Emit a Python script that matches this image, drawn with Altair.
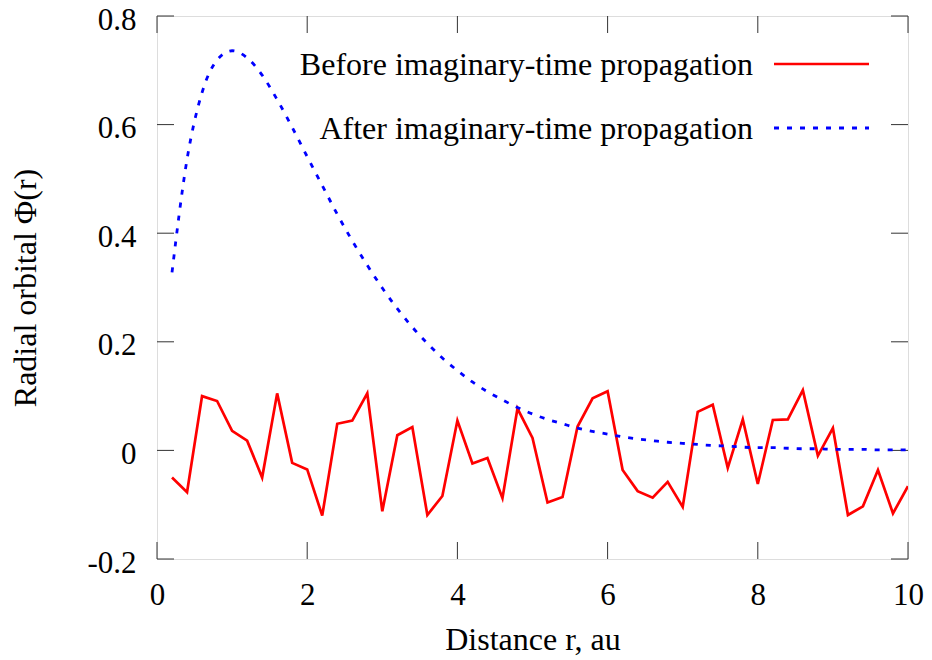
import altair as alt
import pandas as pd

# Radial grid (au)
r = [round(0.2 * i, 1) for i in range(1, 51)]

# Before imaginary-time propagation
before = [-0.050, -0.077, 0.100, 0.091, 0.036, 0.018, -0.050, 0.105, -0.023, -0.035,
          -0.120, 0.049, 0.055, 0.105, -0.112, 0.028, 0.043, -0.119, -0.084, 0.055,
          -0.024, -0.014, -0.088, 0.077, 0.023, -0.096, -0.086, 0.044, 0.096, 0.109,
          -0.036, -0.075, -0.087, -0.058, -0.104, 0.071, 0.084, -0.032, 0.057, -0.062,
          0.056, 0.057, 0.111, -0.010, 0.041, -0.119, -0.103, -0.036, -0.116, -0.066]

# After imaginary-time propagation
after = [0.328, 0.536, 0.659, 0.719, 0.736, 0.723, 0.691, 0.646, 0.595, 0.541,
         0.488, 0.435, 0.386, 0.341, 0.299, 0.261, 0.227, 0.197, 0.170, 0.147,
         0.126, 0.108, 0.093, 0.079, 0.067, 0.057, 0.049, 0.041, 0.035, 0.030,
         0.025, 0.021, 0.018, 0.015, 0.013, 0.011, 0.009, 0.008, 0.006, 0.005,
         0.005, 0.004, 0.003, 0.003, 0.002, 0.002, 0.002, 0.001, 0.001, 0.001]

x_ticks = [0, 2, 4, 6, 8, 10]
y_ticks = [-0.2, 0, 0.2, 0.4, 0.6, 0.8]

legend_labels = ["Before imaginary-time propagation", "After imaginary-time propagation"]

FONT = "Liberation Serif"
W, H = 751, 543
TICK = 17

df = pd.DataFrame({"r": r, "before": before, "after": after})

xs = alt.Scale(domain=[0, 10], nice=False, zero=False)
ys = alt.Scale(domain=[-0.2, 0.8], nice=False, zero=False)

x_axis = alt.Axis(values=x_ticks, format="d", grid=False, domain=False, ticks=False,
                  tickSize=0, labelFont=FONT, labelFontSize=31, labelColor="black",
                  labelBaseline="alphabetic", labelPadding=45, labelFlush=False,
                  title="Distance  r, au", titleFont=FONT, titleFontSize=32,
                  titleFontWeight="normal", titleColor="black",
                  titleBaseline="alphabetic", titleY=90, titleX=W / 2)
y_axis = alt.Axis(values=y_ticks, grid=False, domain=False, ticks=False, tickSize=0,
                  labelFont=FONT, labelFontSize=31, labelColor="black",
                  labelPadding=21, labelFlush=False, labelBaseline="alphabetic",
                  labelOffset=13,
                  labelExpr="datum.value == 0 ? '0' : (datum.value < 0 ? '-' + format(-datum.value, '.1f') : format(datum.value, '.1f'))",
                  title="Radial orbital \u03a6(r)", titleFont=FONT, titleFontSize=32,
                  titleFontWeight="normal", titleColor="black",
                  titleBaseline="alphabetic", titleAngle=270, titleX=-122, titleY=H / 2,
                  titleAlign="center")

base = alt.Chart(df)

red = base.mark_line(color="#ff0000", strokeWidth=2.7, clip=True).encode(
    x=alt.X("r:Q", scale=xs, axis=x_axis),
    y=alt.Y("before:Q", scale=ys, axis=y_axis),
)
blue = base.mark_line(color="#0000ff", strokeWidth=2.8, strokeDash=[5, 8],
                      interpolate="monotone", clip=True).encode(
    x=alt.X("r:Q", scale=xs),
    y=alt.Y("after:Q", scale=ys),
)

xt = pd.DataFrame({"v": x_ticks})
yt = pd.DataFrame({"v": y_ticks})
tick_style = dict(color="#333333", strokeWidth=1)
xt_bottom = alt.Chart(xt).mark_rule(**tick_style).encode(
    x=alt.X("v:Q", scale=xs), y=alt.value(H - TICK), y2=alt.value(H))
xt_top = alt.Chart(xt).mark_rule(**tick_style).encode(
    x=alt.X("v:Q", scale=xs), y=alt.value(0), y2=alt.value(TICK))
yt_left = alt.Chart(yt).mark_rule(**tick_style).encode(
    y=alt.Y("v:Q", scale=ys), x=alt.value(0), x2=alt.value(TICK))
yt_right = alt.Chart(yt).mark_rule(**tick_style).encode(
    y=alt.Y("v:Q", scale=ys), x=alt.value(W - TICK), x2=alt.value(W))

one = pd.DataFrame({"label": [legend_labels[0]]})
two = pd.DataFrame({"label": [legend_labels[1]]})
leg_t1 = alt.Chart(one).mark_text(align="right", baseline="middle", font=FONT,
                                  fontSize=32, color="black").encode(
    text="label:N", x=alt.value(596), y=alt.value(49))
leg_t2 = alt.Chart(two).mark_text(align="right", baseline="middle", font=FONT,
                                  fontSize=32, color="black").encode(
    text="label:N", x=alt.value(596), y=alt.value(113))
leg_l1 = alt.Chart(one).mark_rule(color="#ff0000", strokeWidth=2.7).encode(
    x=alt.value(617), x2=alt.value(712), y=alt.value(48))
leg_l2 = alt.Chart(two).mark_rule(color="#0000ff", strokeWidth=2.8, strokeDash=[5, 8]).encode(
    x=alt.value(617), x2=alt.value(712), y=alt.value(112))

chart = alt.layer(
    xt_bottom, xt_top, yt_left, yt_right, red, blue, leg_t1, leg_t2, leg_l1, leg_l2
).properties(
    width=W, height=H,
    autosize=alt.AutoSizeParams(type="none"),
    padding={"left": 149, "top": 8, "right": 16, "bottom": 101},
).configure_view(
    stroke="black", strokeWidth=2
).configure(
    font=FONT, background="white"
)

chart.save("out.html", embed_options={"renderer": "svg", "actions": False})
